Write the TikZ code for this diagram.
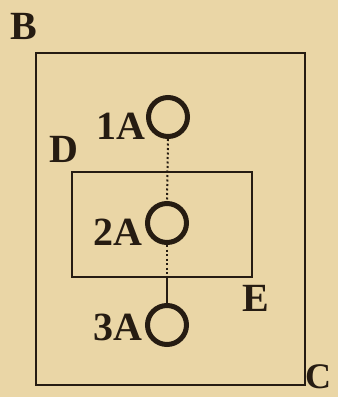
\documentclass[tikz,border=0pt]{standalone}
\usepackage{fontspec}
\setmainfont{Liberation Serif}
\definecolor{paper}{RGB}{234,214,166}
\definecolor{ink}{RGB}{38,28,18}
\begin{document}
\begin{tikzpicture}[x=1pt,y=-1pt,
  frame/.style={draw=ink,line width=2pt,inner sep=0pt},
  ring/.style={draw=ink,circle,line width=5pt,minimum size=39pt,inner sep=0pt},
  lbl/.style={text=ink,font=\fontsize{40}{40}\selectfont\bfseries,inner sep=0pt},
  tag/.style={lbl,anchor=base east},
  dots/.style={draw=ink,line width=2pt,dash pattern=on 2pt off 2.5pt},
  stem/.style={draw=ink,line width=2pt}]
\fill[paper] (0,0) rectangle (338,397);
\useasboundingbox (0,0) rectangle (338,397);
\node[frame,minimum width=269pt,minimum height=332pt] (outer) at (170,219) {};
\node[frame,minimum width=180pt,minimum height=105pt] (inner) at (162,224.5) {};
\node[ring] (c1) at (168,117) {};
\node[ring] (c2) at (167,223) {};
\node[ring] (c3) at (167,325) {};
\node[tag] (t1) at (146,139) {1A};
\node[tag] (t2) at (143,245) {2A};
\node[tag] (t3) at (143,340) {3A};
\node[lbl] (B) at (24,26) {B};
\node[lbl] (D) at (64,149) {D};
\node[lbl] (E) at (256,298) {E};
\node[lbl,font=\fontsize{36}{36}\selectfont\bfseries] (C) at (318,377) {C};
\coordinate (m) at (c2.south |- inner.south);
\draw[dots] (c1.south) -- (c2.north);
\draw[dots] (c2.south) -- (m);
\draw[stem] (m) -- (c3.north);
\end{tikzpicture}
\end{document}
